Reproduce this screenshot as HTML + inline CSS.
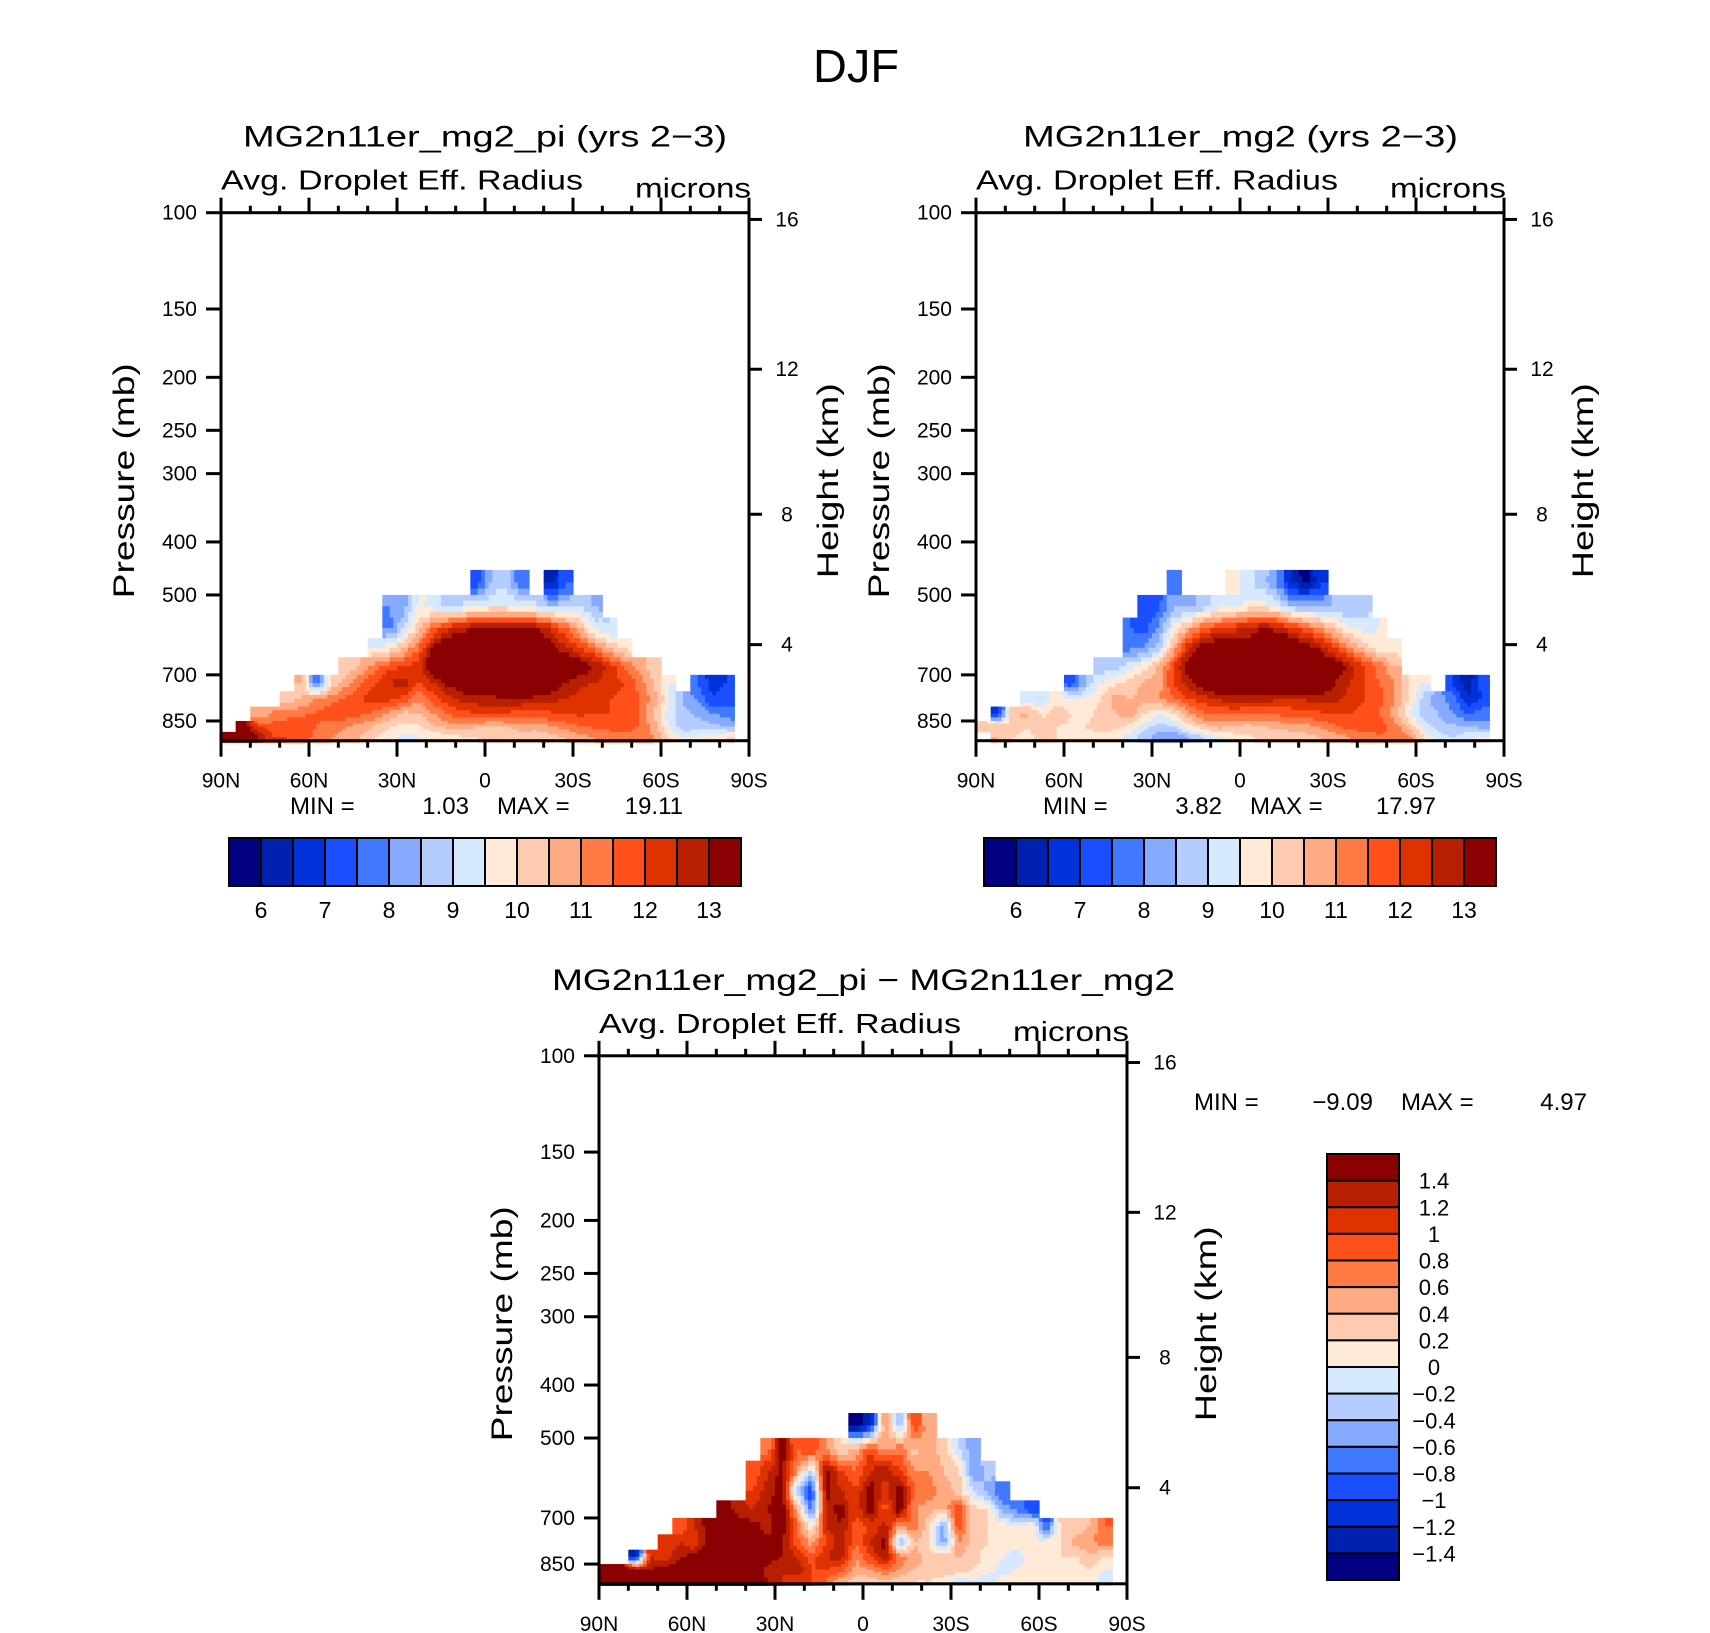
<!DOCTYPE html>
<html><head><meta charset="utf-8"><title>DJF droplet effective radius</title>
<style>
html,body{margin:0;padding:0;background:#fff;}
svg{display:block;font-family:"Liberation Sans",sans-serif;}
</style></head>
<body>
<svg id="fig" xmlns="http://www.w3.org/2000/svg" width="1710" height="1633" viewBox="0 0 1710 1633">
<rect x="0" y="0" width="1710" height="1633" fill="#fff"/>
<text x="856" y="82" font-size="46" text-anchor="middle" textLength="86" lengthAdjust="spacingAndGlyphs">DJF</text>
<g id="layer"></g>
</svg>
<script>
// ---- data ----
const latLabels = ["90N","60N","30N","0","30S","60S","90S"];
const pressureTicks = [100,150,200,250,300,400,500,700,850];
const heightTicks = [4,8,12,16];
const pEdges = [450,500,550,600,650,700,750,800,850,890,930];
const levelsAbs = [6,6.5,7,7.5,8,8.5,9,9.5,10,10.5,11,11.5,12,12.5,13];
const levelsDiff = [-1.4,-1.2,-1,-0.8,-0.6,-0.4,-0.2,0,0.2,0.4,0.6,0.8,1,1.2,1.4];
const absLabels = ["6","7","8","9","10","11","12","13"];
const diffLabels = ["1.4","1.2","1","0.8","0.6","0.4","0.2","0","\u22120.2","\u22120.4","\u22120.6","\u22120.8","\u22121","\u22121.2","\u22121.4"];
const palette = ["#000080","#0020b0","#0032dc","#1a4fff","#4078ff","#85aaff","#b4ccff","#d7e9ff","#ffead8","#ffcbb0","#ffaa82","#ff7a45","#ff501c","#e03200","#b71f00","#8b0000"];
// each row: [startColumn (5deg bins from 90N), values...] ; rows top (450mb) -> bottom
const gridPi = [
 [17, 7.2,8.6,8.8,7.5,null,6.2,7.4],
 [11, 8.0,8.3,9.6,9.2,8.8,9.0,9.3,9.6,9.5,9.3,9.0,8.6,8.8,9.0,8.4],
 [11, 7.8,9.0,10.3,11.5,12.3,12.8,13.2,13.3,13.5,13.5,13.0,12.5,11.5,10.5,9.3,9.0],
 [10, 9.3,9.8,10.5,11.5,13.2,14,14,14,14,14,14,13.8,13.2,12.6,12,11.3,10.4,9.8],
 [8, 10.0,10.5,11.3,11.8,12.0,12.3,14,14,14,14,14,14,14,14,14,14,13.5,13,12.3,11.5,10.8,10.0],
 [5, 10.5,7.5,10,10.8,11.5,12.0,12.5,12.8,12.0,12.5,13.2,13.5,14,14,14,14,13.8,13.5,13,12.6,12.5,12.3,12.0,11.4,10.5,9.5,null,7.5,6.8,7.0],
 [4, 10.3,10.5,11,11.3,11.6,12.0,12.3,12.2,11.8,11.0,11.8,12.3,12.7,12.8,12.8,13,13,12.8,12.7,12.5,12.3,12.0,12.0,11.8,11.5,10.8,9.6,8.4,8.0,7.0,7.3],
 [2, 10.5,11,11.2,11.4,11.6,11.8,11.8,11.6,11.3,10.8,10.3,10.5,11.0,11.5,11.8,12.0,12.0,11.9,11.7,11.7,11.9,12.0,12.1,12.0,12.0,11.9,11.5,10.5,9.2,8.7,8.4,8.0,7.8],
 [1, 13.5,12,11.8,12,11.8,11.5,11.2,11.0,10.8,10.4,10.0,9.8,9.9,10.4,10.7,10.8,10.5,10.3,10.5,10.8,10.7,10.9,11.2,11.5,11.6,11.7,11.7,11.5,10.8,9.5,8.6,8.8,8.7,8.5],
 [0, 13.5,14,13,12,12,11.8,11.3,11,10.8,10.5,10.0,9.7,9.3,9.5,9.6,9.8,9.9,10.0,10.0,10.0,10.2,10.1,10.3,10.5,10.8,11.0,11.2,11.3,11.3,11.0,10.0,9.5,9.6,9.8,10]
];
const gridMg2 = [
 [13, 7.5,null,null,null,9.8,9.2,8.7,8.0,6.5,5.8,6.8],
 [11, 7,7.4,8.5,8.2,8.7,9.2,9.3,9.6,9.8,9.3,8.6,8.5,8.4,8.6,8.5,8.8],
 [10, 7.5,7.3,8.2,9.6,10.7,11.5,12.0,12.3,12.6,13.0,12.8,12.2,11.5,11.0,10.2,9.5,9.3,9.5],
 [10, 7.8,8.0,8.8,10.6,12.5,13.5,13.8,13.5,13.4,14,14,14,13.5,12.8,12.0,11.0,10.3,9.7,9.8],
 [8, 8.5,8.8,9.2,9.8,10.6,12.0,13.5,14,14,14,14,14,14,14,14,14,13.5,12.8,12.0,11.3,10.5],
 [6, 7.2,8.5,9.6,9.9,10.2,10.6,10.8,12.0,12.8,13.5,14,14,14,14,14,14,13.8,13.5,13,12.5,12.0,11.5,11.0,10.0,9.5,null,7.0,6.2,7.2],
 [3, 9.2,9.0,9.8,9.5,9.6,10.0,10.8,10.5,10.7,11,11.4,12.0,12.3,12.6,12.8,12.7,12.7,12.6,12.5,12.6,12.8,12.7,12.3,12.0,11.7,11.0,10.0,8.8,8.2,7.8,6.5,7.0],
 [1, 6.8,10.5,10.6,9.9,10.3,10.0,9.8,10.2,10.5,10.8,10.0,9.5,10.0,10.8,11.4,11.5,11.6,11.5,11.5,11.6,11.7,11.7,11.9,12.0,12.0,11.8,11.5,10.8,9.5,8.8,8.5,8.0,7.5,7.8],
 [0, 10.3,10.5,10.2,10.0,10.3,10.0,9.9,10.0,10.3,10.2,9.8,9.2,8.8,9.0,9.8,10.3,10.7,10.5,10.3,10.5,10.6,10.7,10.8,11.1,11.4,11.7,11.8,11.7,11.3,10.5,9.3,8.7,8.6,8.5,8.3],
 [1, 10.5,10.0,9.8,10.2,10.0,9.9,9.8,9.8,9.6,9.3,8.7,8.2,8.0,8.5,9.0,9.4,9.7,9.9,10.1,10.2,10.2,10.3,10.5,10.7,11.0,11.2,11.4,11.5,11.2,10.0,9.3,9.0,9.4,9.6]
];
const gridDiff = [
 [17, -1.5,-1.2,0.6,-0.4,1.0,0.4],
 [11, 0.7,1.5,0.8,1.0,0.6,0.2,0.5,1.0,0.5,0.8,0.3,0.5,0.3,-0.2,-0.5],
 [10, 0.8,1.2,1.5,0.6,-0.2,1.5,1.0,0.8,1.2,1.4,1.0,0.6,0.6,0.4,0.3,-0.6,-0.3],
 [10, 1.0,1.3,1.5,-0.4,-1.0,1.5,1.2,1.0,1.6,1.0,1.6,0.8,0.7,0.5,0.3,-0.2,-0.5,-0.8],
 [8, 1.6,1.3,1.2,1.4,1.6,0.5,-0.8,1.3,1.5,1.0,1.6,0.9,1.6,0.6,0.5,0.4,1.0,0.3,0.2,-0.5,-0.7,-1.0],
 [5, 0.8,1.2,1.5,1.6,1.5,1.5,1.3,1.6,0.8,0.0,1.2,1.4,0.9,1.0,1.3,0.6,0.8,0.2,-0.5,1.0,0.3,0.2,0.1,0.0,0.2,-0.9,0.3,0.2,0.4,0.8],
 [4, 1.0,1.2,1.0,1.5,1.6,1.6,1.6,1.5,1.4,0.9,0.5,1.0,1.4,0.8,1.2,1.5,-0.5,0.4,0.2,-0.6,0.6,0.3,0.2,0.1,0.1,0.0,0.1,0.2,0.5,0.6,0.7],
 [2, -1.3,1.2,1.0,1.4,1.5,1.6,1.6,1.6,1.6,1.5,1.4,1.2,0.9,1.2,1.3,0.6,1.0,1.4,0.7,0.5,0.3,0.4,0.4,0.3,0.1,0.0,-0.1,0.1,0.1,0.2,0.2,0.3,0.2],
 [0, 1.6,1.6,1.5,1.4,1.6,1.6,1.6,1.6,1.6,1.6,1.6,1.3,1.2,1.4,1.0,1.0,0.9,0.5,0.6,0.8,0.6,0.4,0.3,0.4,0.3,0.2,0.1,-0.1,0.0,0.1,0.1,0.1,0.1,0.2,0.0],
 [0, 1.6,1.6,1.6,1.5,1.6,1.6,1.6,1.6,1.6,1.6,1.6,1.4,1.2,1.0,1.0,0.8,0.5,0.3,0.3,0.4,0.3,0.2,0.2,0.1,-0.1,0.0,-0.2,0.1,0.1,0.1,0.1,0.1,0.1,0.1,-0.2]
];

// ---- layout ----
const NS = "http://www.w3.org/2000/svg";
const layer = document.getElementById("layer");
const SIZE = 528, KLOG = 237.5, NCOL = 36;
function mk(tag, attrs, parent){const e=document.createElementNS(NS,tag);for(const k in attrs)e.setAttribute(k,attrs[k]);(parent||layer).appendChild(e);return e;}
function yScale(top,p){return top+KLOG*Math.log(p/100);}
function xScale(left,col){return left+col*SIZE/NCOL;}
function hToP(h){return h<=11?1013.25*Math.pow(1-2.2558e-5*h*1000,5.2559):226.32*Math.exp(-(h-11)/6.3416);}
function expand(g){return g.map(r=>{const a=new Array(NCOL).fill(null);for(let i=1;i<r.length;i++)a[r[0]+i-1]=r[i];return a;});}
function colorOf(v,lv){let k=0;while(k<lv.length&&v>=lv[k])k++;return palette[k];}

function drawField(P){
  const G = expand(P.grid);
  const g = mk("g",{},layer);
  
  
  const nR=G.length, S=4;
  function get(r,c,own){if(r<0||r>=nR||c<0||c>=NCOL)return own;const v=G[r][c];return v==null?own:v;}
  for(let r=0;r<nR;r++)for(let c=0;c<NCOL;c++){
    const own=G[r][c]; if(own==null)continue;
    const yT=yScale(P.top,pEdges[r]), yB=yScale(P.top,pEdges[r+1]);
    for(let sy=0;sy<S;sy++)for(let sx=0;sx<S;sx++){
      const u=c+(sx+0.5)/S-0.5, v=r+(sy+0.5)/S-0.5;
      const c0=Math.floor(u), r0=Math.floor(v), fu=u-c0, fv=v-r0;
      const val=(1-fu)*(1-fv)*get(r0,c0,own)+fu*(1-fv)*get(r0,c0+1,own)+(1-fu)*fv*get(r0+1,c0,own)+fu*fv*get(r0+1,c0+1,own);
      const x0=xScale(P.left,c+sx/S), x1=xScale(P.left,c+(sx+1)/S);
      const y0=yT+(yB-yT)*sy/S, y1=yT+(yB-yT)*(sy+1)/S;
      const rc=mk("rect",{x:x0.toFixed(2),y:y0.toFixed(2),width:(x1-x0+0.6).toFixed(2),height:(y1-y0+0.6).toFixed(2),fill:colorOf(val,P.levels)},g);
      
      
    }
  }
}

function txt(x,y,s,size,anchor,parent,name,extra){
  const t=mk("text",Object.assign({x:x,y:y,"font-size":size,"text-anchor":anchor||"start"},extra||{}),parent);
  t.textContent=s;
  
  
  return t;
}

function drawAxes(P){
  const g=mk("g",{stroke:"#000","stroke-width":3,fill:"none"},layer);
  
  
  const L=P.left,T=P.top,R=L+SIZE,B=T+SIZE;
  mk("rect",{x:L,y:T,width:SIZE,height:SIZE},g);
  for(let d=0;d<=180;d+=10){
    const x=L+SIZE*d/180, major=d%30===0;
    mk("line",{x1:x,y1:T,x2:x,y2:T-(major?15:7)},g);
    mk("line",{x1:x,y1:B,x2:x,y2:B+(major?16:7)},g);
  }
  pressureTicks.forEach(p=>{const y=yScale(T,p);mk("line",{x1:L,y1:y,x2:L-15,y2:y},g);
    txt(L-24,y+7,String(p),21,"end",layer,"pressure-tick-label");});
  heightTicks.forEach(h=>{const y=yScale(T,hToP(h));mk("line",{x1:R,y1:y,x2:R+13,y2:y},g);
    txt(R+38,y+7,String(h),21,"middle",layer,"height-tick-label");});
  latLabels.forEach((s,i)=>{txt(L+SIZE*i/6,B+47,s,21,"middle",layer,"latitude-tick-label");});
  txt(L-87,T+268,"Pressure (mb)",30,"middle",layer,"y-axis-title-pressure",{transform:`rotate(-90 ${L-87} ${T+268})`,textLength:235,lengthAdjust:"spacingAndGlyphs"});
  txt(R+89,T+268,"Height (km)",30,"middle",layer,"y-axis-title-height",{transform:`rotate(-90 ${R+89} ${T+268})`,textLength:195,lengthAdjust:"spacingAndGlyphs"});
}

function hColorbar(x0,y0,w,h){
  const g=mk("g",{},layer);
  
  
  const bw=w/16;
  palette.forEach((c,i)=>{const r=mk("rect",{x:x0+i*bw,y:y0,width:bw,height:h,fill:c,stroke:"#000","stroke-width":2},g);
    });
  absLabels.forEach((s,i)=>{txt(x0+bw*(1+2*i),y0+h+32,s,23,"middle",g,"colorbar-label");});
}
function vColorbar(x0,y0,w,h){
  const g=mk("g",{},layer);
  
  
  const bh=h/16;
  palette.slice().reverse().forEach((c,i)=>{const r=mk("rect",{x:x0,y:y0+i*bh,width:w,height:bh,fill:c,stroke:"#000","stroke-width":2},g);
    });
  diffLabels.forEach((s,i)=>{txt(x0+w+35,y0+bh*(i+1)+8,s,22,"middle",g,"colorbar-label");});
}

const panels=[
 {name:"panel-pi",left:221,top:212.7,grid:gridPi,levels:levelsAbs,title:"MG2n11er_mg2_pi (yrs 2\u22123)",tx:[243,727]},
 {name:"panel-mg2",left:976,top:212.7,grid:gridMg2,levels:levelsAbs,title:"MG2n11er_mg2 (yrs 2\u22123)",tx:[1023,1458]},
 {name:"panel-diff",left:599,top:1055.8,grid:gridDiff,levels:levelsDiff,title:"MG2n11er_mg2_pi \u2212 MG2n11er_mg2",tx:[552,1175]}
];
panels.forEach(P=>{
  drawField(P);
  drawAxes(P);
  const T=P.top,L=P.left;
  txt(P.tx[0],T-66,P.title,30,"start",layer,"panel-title",{textLength:P.tx[1]-P.tx[0],lengthAdjust:"spacingAndGlyphs"});
  txt(L,T-23,"Avg. Droplet Eff. Radius",28,"start",layer,"variable-label",{textLength:362,lengthAdjust:"spacingAndGlyphs"});
  txt(L+414,T-15,"microns",28,"start",layer,"units-label",{textLength:116,lengthAdjust:"spacingAndGlyphs"});
});
function minmax(x,y,v1,v2,name){
  txt(x,y,"MIN  =",24,"start",layer,name+"-min-label");
  txt(x+179,y,v1,24,"end",layer,name+"-min-value");
  txt(x+207,y,"MAX  =",24,"start",layer,name+"-max-label");
  txt(x+393,y,v2,24,"end",layer,name+"-max-value");
}
minmax(290,814,"1.03","19.11","panel-pi");
minmax(1043,814,"3.82","17.97","panel-mg2");
minmax(1194,1110,"\u22129.09","4.97","panel-diff");
hColorbar(229,838,512,48);
hColorbar(984,838,512,48);
vColorbar(1327,1154,72,426);
</script>
</body></html>
